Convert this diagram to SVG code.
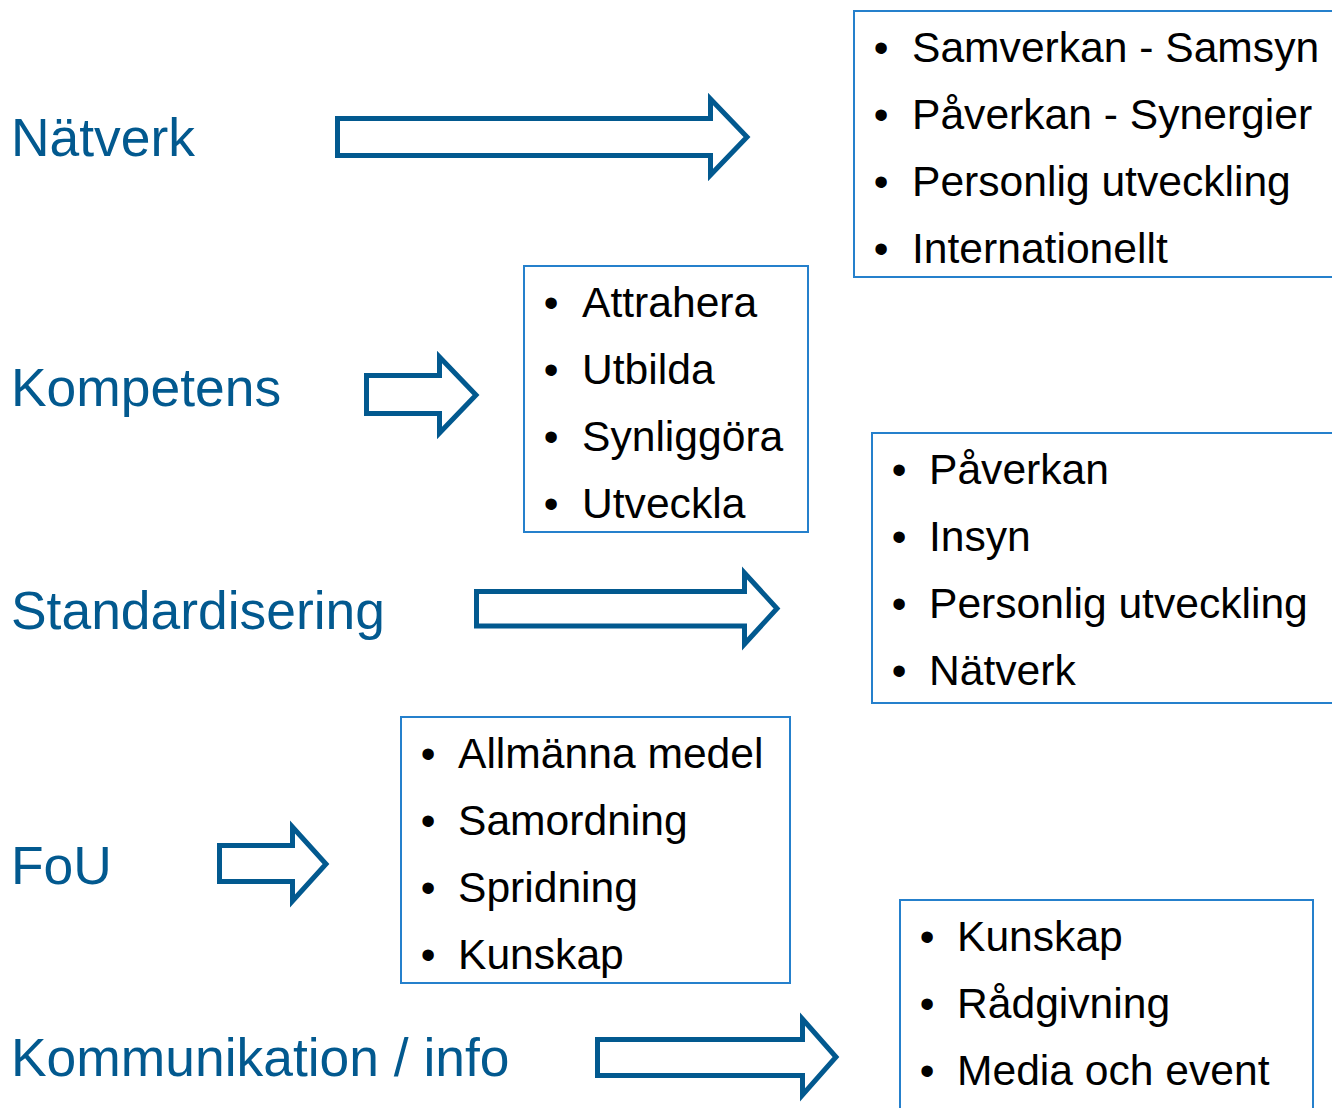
<svg xmlns="http://www.w3.org/2000/svg" width="1332" height="1108" viewBox="0 0 1332 1108">
<style>
.lbl{font-family:"Liberation Sans",Arial,sans-serif;font-size:53.4px;fill:#02598f}
.itm{font-family:"Liberation Sans",Arial,sans-serif;font-size:42.6px;fill:#000}
.bul{font-family:"Liberation Sans",Arial,sans-serif;font-size:42px;fill:#000;text-anchor:middle}
.box{fill:#fff;stroke:#2580cc;stroke-width:2}
.arr{fill:#fff;stroke:#02598f;stroke-width:5;stroke-linejoin:miter}
</style>
<rect width="1332" height="1108" fill="#fff"/>
<g id="connectors">
<path class="arr" d="M337.5,118.5 H710.5 V99 L747,137 L710.5,175 V155.5 H337.5 Z"/>
<path class="arr" d="M366.5,375.5 H439.5 V357 L476,395 L439.5,433 V413.5 H366.5 Z"/>
<path class="arr" d="M476.5,591.5 H744.5 V573 L777,608.5 L744.5,644 V626 H476.5 Z"/>
<path class="arr" d="M219.5,845.5 H292.5 V827 L326,864 L292.5,901 V881.5 H219.5 Z"/>
<path class="arr" d="M597.5,1039.5 H802.5 V1019 L836,1057 L802.5,1095 V1075.5 H597.5 Z"/>
</g>
<g id="label-natverk"><text class="lbl" x="11" y="156">Nätverk</text></g>
<g id="label-kompetens"><text class="lbl" x="11" y="406">Kompetens</text></g>
<g id="label-standardisering"><text class="lbl" x="11" y="629">Standardisering</text></g>
<g id="label-fou"><text class="lbl" x="11" y="884">FoU</text></g>
<g id="label-kommunikation"><text class="lbl" x="11" y="1076">Kommunikation / info</text></g>
<g id="box-natverk">
<rect class="box" x="854" y="11" width="490" height="266"/>
<text class="bul" x="881" y="62">•</text><text class="itm" x="912" y="62">Samverkan - Samsyn</text>
<text class="bul" x="881" y="129">•</text><text class="itm" x="912" y="129">Påverkan - Synergier</text>
<text class="bul" x="881" y="196">•</text><text class="itm" x="912" y="196">Personlig utveckling</text>
<text class="bul" x="881" y="263">•</text><text class="itm" x="912" y="263">Internationellt</text>
</g>
<g id="box-kompetens">
<rect class="box" x="524" y="266" width="284" height="266"/>
<text class="bul" x="551" y="317">•</text><text class="itm" x="582" y="317">Attrahera</text>
<text class="bul" x="551" y="384">•</text><text class="itm" x="582" y="384">Utbilda</text>
<text class="bul" x="551" y="451">•</text><text class="itm" x="582" y="451">Synliggöra</text>
<text class="bul" x="551" y="518">•</text><text class="itm" x="582" y="518">Utveckla</text>
</g>
<g id="box-standardisering">
<rect class="box" x="872" y="433" width="472" height="270"/>
<text class="bul" x="899" y="484">•</text><text class="itm" x="929" y="484">Påverkan</text>
<text class="bul" x="899" y="551">•</text><text class="itm" x="929" y="551">Insyn</text>
<text class="bul" x="899" y="618">•</text><text class="itm" x="929" y="618">Personlig utveckling</text>
<text class="bul" x="899" y="685">•</text><text class="itm" x="929" y="685">Nätverk</text>
</g>
<g id="box-fou">
<rect class="box" x="401" y="717" width="389" height="266"/>
<text class="bul" x="428" y="768">•</text><text class="itm" x="458" y="768">Allmänna medel</text>
<text class="bul" x="428" y="835">•</text><text class="itm" x="458" y="835">Samordning</text>
<text class="bul" x="428" y="902">•</text><text class="itm" x="458" y="902">Spridning</text>
<text class="bul" x="428" y="969">•</text><text class="itm" x="458" y="969">Kunskap</text>
</g>
<g id="box-kommunikation">
<rect class="box" x="900" y="900" width="413" height="230"/>
<text class="bul" x="927" y="951">•</text><text class="itm" x="957" y="951">Kunskap</text>
<text class="bul" x="927" y="1018">•</text><text class="itm" x="957" y="1018">Rådgivning</text>
<text class="bul" x="927" y="1085">•</text><text class="itm" x="957" y="1085">Media och event</text>
</g>
</svg>
